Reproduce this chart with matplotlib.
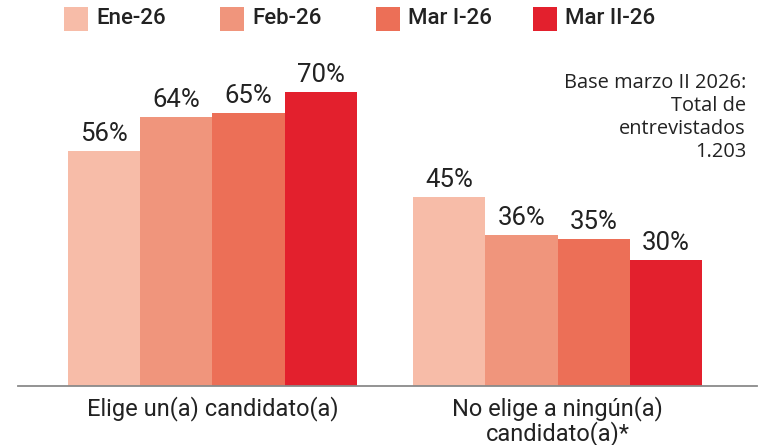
import matplotlib
matplotlib.use("Agg")
import matplotlib.pyplot as plt
from matplotlib.patches import Rectangle

categories = ["Elige un(a) candidato(a)", "No elige a ningún(a)\ncandidato(a)*"]
series = ["Ene-26", "Feb-26", "Mar I-26", "Mar II-26"]
values = {
    "Ene-26": [56, 45],
    "Feb-26": [64, 36],
    "Mar I-26": [65, 35],
    "Mar II-26": [70, 30],
}
colors = ["#F7BCA8", "#F0957C", "#EC6F57", "#E3202D"]
note = "Base marzo II 2026:\nTotal de\nentrevistados\n1.203"

W, H = 773, 445
fig = plt.figure(figsize=(W / 100, H / 100), dpi=100)
ax = fig.add_axes([18 / W, 1 - 386 / H, (757 - 18) / W, (386 - 60) / H])

font = "Roboto"
txtc = "#222222"
centers = [0, 4.78]
offsets = [-1.5, -0.5, 0.5, 1.5]
for i, s in enumerate(series):
    xs = [c + offsets[i] for c in centers]
    ax.bar(xs, values[s], width=1.0, color=colors[i], linewidth=0)
    for x, v in zip(xs, values[s]):
        ax.annotate(f"{v}%", (x, v), xytext=(0, 3.5), textcoords="offset points",
                    ha="center", va="bottom", fontsize=18.5, color=txtc,
                    family=font)

ax.set_xlim(-2.69, 7.54)
ax.set_ylim(0, (386 - 60) / 4.2)
ax.set_xticks(centers)
ax.set_xticklabels(categories, fontsize=17, color=txtc, family=font,
                   linespacing=1.0)
ax.tick_params(axis="x", length=0, pad=7)
ax.set_yticks([])
for sp in ["top", "right", "left"]:
    ax.spines[sp].set_visible(False)
ax.spines["bottom"].set_color("#8a8a8a")
ax.spines["bottom"].set_linewidth(1.3)

# legend
px = [64, 220, 376, 533]
for i, s in enumerate(series):
    fig.add_artist(Rectangle((px[i] / W, 1 - 31 / H), 24 / W, 24 / H,
                             transform=fig.transFigure, color=colors[i], lw=0))
    fig.text((px[i] + 32) / W, 1 - 19 / H, s, ha="left", va="center",
             fontsize=16, color=txtc, family=font, fontweight="medium")

fig.text(746 / W, 1 - 73 / H, note, ha="right", va="top", fontsize=14.4,
         color=txtc, family="Open Sans", linespacing=1.2)

fig.savefig("out.png", dpi=100)
